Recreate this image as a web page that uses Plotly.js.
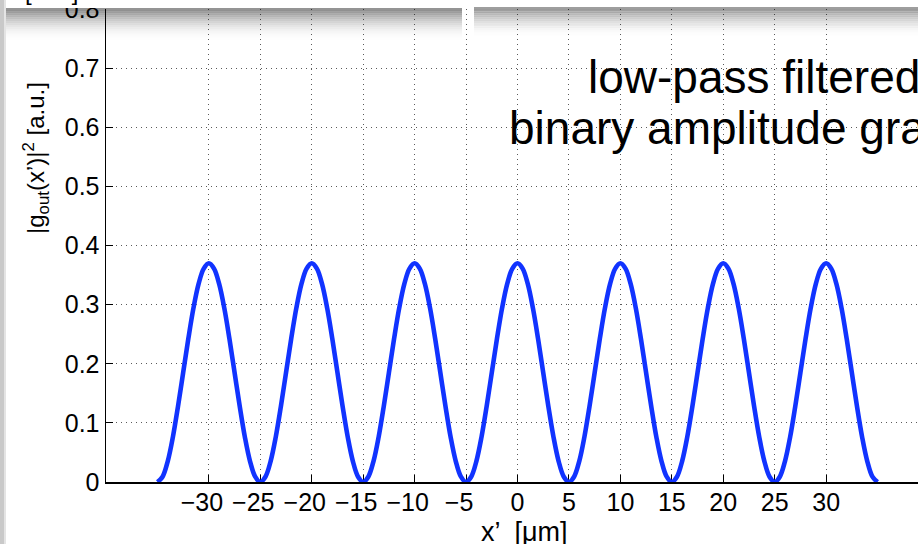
<!DOCTYPE html>
<html>
<head>
<meta charset="utf-8">
<script src="https://cdn.plot.ly/plotly-3.0.1.min.js"></script>
<style>
  html, body { margin: 0; padding: 0; overflow: hidden; background: #fff; }
  #chart { width: 960px; height: 544px; }
</style>
</head>
<body>
<div id="chart"></div>
<script>
// ---- data ----
const xPositions = [
  -35,-34.5,-34,-33.5,-33,-32.5,-32,-31.5,-31,-30.5,-30,-29.5,-29,-28.5,-28,-27.5,-27,-26.5,-26,-25.5,
  -25,-24.5,-24,-23.5,-23,-22.5,-22,-21.5,-21,-20.5,-20,-19.5,-19,-18.5,-18,-17.5,-17,-16.5,-16,-15.5,
  -15,-14.5,-14,-13.5,-13,-12.5,-12,-11.5,-11,-10.5,-10,-9.5,-9,-8.5,-8,-7.5,-7,-6.5,-6,-5.5,
  -5,-4.5,-4,-3.5,-3,-2.5,-2,-1.5,-1,-0.5,0,0.5,1,1.5,2,2.5,3,3.5,4,4.5,
  5,5.5,6,6.5,7,7.5,8,8.5,9,9.5,10,10.5,11,11.5,12,12.5,13,13.5,14,14.5,
  15,15.5,16,16.5,17,17.5,18,18.5,19,19.5,20,20.5,21,21.5,22,22.5,23,23.5,24,24.5,
  25,25.5,26,26.5,27,27.5,28,28.5,29,29.5,30,30.5,31,31.5,32,32.5,33,33.5,34,34.5,35];
const intensity = [
  0.000,0.009,0.035,0.076,0.128,0.185,0.242,0.294,0.335,0.361,0.370,0.361,0.335,0.294,0.242,0.185,0.128,0.076,0.035,0.009,
  0.000,0.009,0.035,0.076,0.128,0.185,0.242,0.294,0.335,0.361,0.370,0.361,0.335,0.294,0.242,0.185,0.128,0.076,0.035,0.009,
  0.000,0.009,0.035,0.076,0.128,0.185,0.242,0.294,0.335,0.361,0.370,0.361,0.335,0.294,0.242,0.185,0.128,0.076,0.035,0.009,
  0.000,0.009,0.035,0.076,0.128,0.185,0.242,0.294,0.335,0.361,0.370,0.361,0.335,0.294,0.242,0.185,0.128,0.076,0.035,0.009,
  0.000,0.009,0.035,0.076,0.128,0.185,0.242,0.294,0.335,0.361,0.370,0.361,0.335,0.294,0.242,0.185,0.128,0.076,0.035,0.009,
  0.000,0.009,0.035,0.076,0.128,0.185,0.242,0.294,0.335,0.361,0.370,0.361,0.335,0.294,0.242,0.185,0.128,0.076,0.035,0.009,
  0.000,0.009,0.035,0.076,0.128,0.185,0.242,0.294,0.335,0.361,0.370,0.361,0.335,0.294,0.242,0.185,0.128,0.076,0.035,0.009,
  0.000];
const xTickNegValues = [-30,-25,-20,-15,-10,-5];
const xTickNegLabels = ['\u221230','\u221225','\u221220','\u221215','\u221210','\u22125'];
const xTickPosValues = [0,5,10,15,20,25,30];
const xTickPosLabels = ['0','5','10','15','20','25','30'];
const yTickValues = [0,0.1,0.2,0.3,0.4,0.5,0.6,0.7,0.8];
const yTickLabels = ['0','0.1','0.2','0.3','0.4','0.5','0.6','0.7','0.8'];
const annotationLines = ['low-pass filtered', 'binary amplitude grating'];
const xTitle = 'x\u2019  [\u03bcm]';
const yTitle = '|g<sub>out</sub>(x\u2019)|<sup>2</sup> [a.u.]';

// ---- layout geometry (pixels) ----
const W = 960, H = 544;
const M = {l: 106, r: 31, t: 9, b: 62};
const PW = W - M.l - M.r, PH = H - M.t - M.b;
const px = x => (x - M.l) / PW;
const py = y => (H - M.b - y) / PH;

const FONT = 'Liberation Sans, Arial, Helvetica, sans-serif';

// ---- decorative slide boxes with drop shadows ----
const shapes = [];
function rect(x0, y0, x1, y1, fill) {
  shapes.push({type: 'rect', xref: 'paper', yref: 'paper', layer: 'above',
    x0: px(x0), x1: px(x1), y0: py(y1), y1: py(y0),
    line: {width: 0}, fillcolor: fill});
}
function shadow(x0, x1, yTop, depth, maxA) {
  const n = 16, h = depth / n;
  for (let i = 0; i < n; i++) {
    const a = maxA * Math.pow(1 - i / n, 2);
    rect(x0, yTop + i * h, x1, yTop + (i + 1) * h + 0.3, 'rgba(0,0,0,' + a.toFixed(3) + ')');
  }
}
shadow(0, 462, 8, 32, 0.42);
shadow(474, W, 7, 30, 0.38);
rect(0, -10, 453, 8, '#ffffff');
rect(481, -10, W, 7, '#ffffff');
rect(0, -10, 4, H + 10, '#c9c9c9');
rect(4, -10, 6, H + 10, '#e4e4e4');

const annotations = [
  {xref: 'paper', yref: 'paper', x: px(754), y: py(77), text: annotationLines[0],
   showarrow: false, xanchor: 'center', yanchor: 'middle',
   font: {family: FONT, size: 46, color: '#000'}},
  {xref: 'paper', yref: 'paper', x: px(754), y: py(128), text: annotationLines[1],
   showarrow: false, xanchor: 'center', yanchor: 'middle',
   font: {family: FONT, size: 46, color: '#000'}},
  {xref: 'paper', yref: 'paper', x: px(36), y: py(158), text: yTitle, textangle: -90,
   showarrow: false, xanchor: 'center', yanchor: 'middle',
   font: {family: FONT, size: 24, color: '#000'}},
  {xref: 'paper', yref: 'paper', x: px(524), y: py(532), text: xTitle,
   showarrow: false, xanchor: 'center', yanchor: 'middle',
   font: {family: FONT, size: 27, color: '#000'}},
  {xref: 'paper', yref: 'paper', x: px(51), y: py(-9), text: '[a.u.]',
   showarrow: false, xanchor: 'center', yanchor: 'middle',
   font: {family: FONT, size: 24, color: '#000'}}
];

const traces = [
  {x: xPositions, y: intensity, type: 'scatter', mode: 'lines',
   line: {color: '#1133ff', width: 4.6, shape: 'spline', smoothing: 1},
   hoverinfo: 'skip'},
  // empty trace so the overlaid axis for the negative tick labels is drawn
  {x: [], y: [], xaxis: 'x2', yaxis: 'y', type: 'scatter', mode: 'lines', hoverinfo: 'skip'}
];

const axisCommon = {
  ticks: 'inside', ticklen: 7, tickwidth: 1, tickcolor: '#000',
  showgrid: true, gridcolor: '#5a5a5a', gridwidth: 1, griddash: '1px,4px',
  zeroline: false, layer: 'below traces', tickangle: 0,
  tickfont: {family: FONT, size: 25, color: '#000'}
};

const layout = {
  width: W, height: H, margin: M,
  paper_bgcolor: '#fff', plot_bgcolor: '#fff',
  showlegend: false,
  xaxis: Object.assign({}, axisCommon, {
    range: [-40, 40], tickmode: 'array', tickvals: xTickPosValues, ticktext: xTickPosLabels,
    showline: true, linecolor: '#000', linewidth: 2, ticklabelstandoff: -3
  }),
  // negative labels: MATLAB centres their digits on the tick, so the minus sticks out left
  xaxis2: Object.assign({}, axisCommon, {
    range: [-40, 40], overlaying: 'x', anchor: 'y', side: 'bottom',
    tickmode: 'array', tickvals: xTickNegValues, ticktext: xTickNegLabels,
    ticklabelshift: -7, showline: true, linecolor: '#000', linewidth: 2,
    ticklabelstandoff: -3
  }),
  yaxis: Object.assign({}, axisCommon, {
    range: [0, 0.8001], tickmode: 'array', tickvals: yTickValues, ticktext: yTickLabels,
    showline: true, linecolor: '#000', linewidth: 1.5
  }),
  shapes: shapes,
  annotations: annotations
};

Plotly.newPlot('chart', traces, layout, {displayModeBar: false, staticPlot: true});
</script>
</body>
</html>
